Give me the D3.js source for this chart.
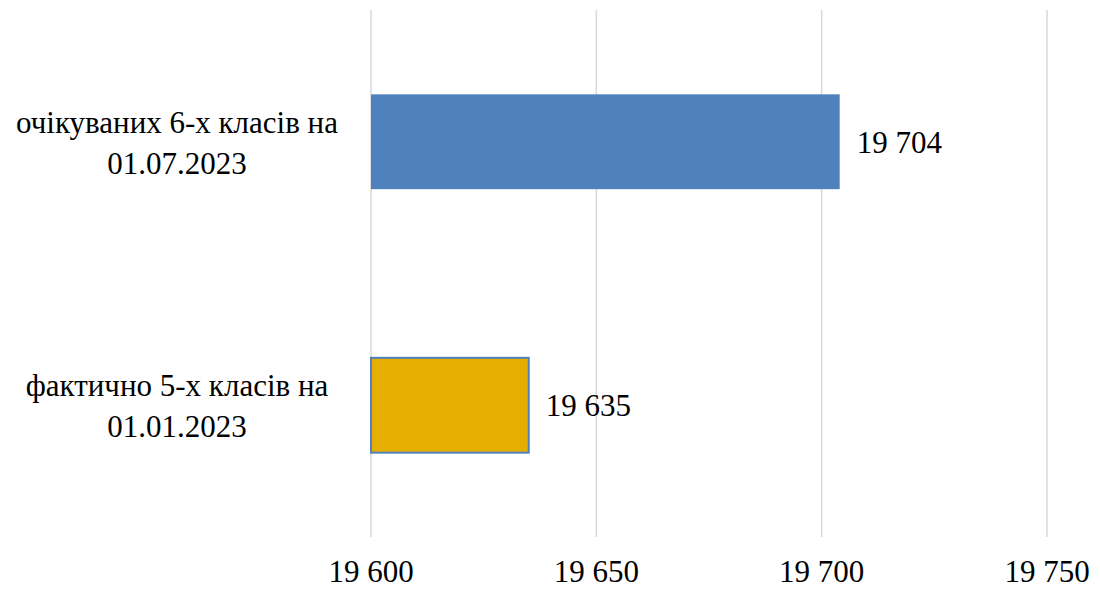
<!DOCTYPE html>
<html>
<head>
<meta charset="utf-8">
<script src="https://cdn.jsdelivr.net/npm/d3@7"></script>
<style>
  body { margin: 0; background: #fff; }
</style>
</head>
<body>
<div id="chart"></div>
<script>
var categories = ["очікуваних 6-х класів на|01.07.2023", "фактично 5-х класів на|01.01.2023"];
var values = [19704, 19635];
var tickValues = [19600, 19650, 19700, 19750];
var tickLabels = ["19 600", "19 650", "19 700", "19 750"];

var width = 1100, height = 589;
var fills = ["#4f81bd", "#e6ae00"];
var font = "'Times New Roman', Times, 'Liberation Serif', Tinos, 'Noto Serif', 'DejaVu Serif', FreeSerif, serif";

var svg = d3.select("#chart").append("svg")
    .attr("width", width)
    .attr("height", height)
    .style("font-family", font);

var x = d3.scaleLinear().domain([19600, 19750]).range([371, 1047]);
var y = d3.scaleBand().domain(categories).range([10, 537]).padding(0);
var barH = y.bandwidth() * 0.36;

// gridlines
svg.append("g").selectAll("line")
    .data(tickValues)
    .enter().append("line")
    .attr("x1", function(d){ return x(d); })
    .attr("x2", function(d){ return x(d); })
    .attr("y1", 10)
    .attr("y2", 537)
    .attr("stroke", "#d9d9d9")
    .attr("stroke-width", 1.5);

// tick labels
svg.append("g").selectAll("text")
    .data(tickValues)
    .enter().append("text")
    .attr("x", function(d){ return x(d); })
    .attr("y", 582)
    .attr("text-anchor", "middle")
    .attr("font-family", font)
    .style("font-size", "31px")
    .text(function(d, i){ return tickLabels[i]; });

// bars
svg.append("g").selectAll("rect")
    .data(values)
    .enter().append("rect")
    .attr("x", x(19600))
    .attr("y", function(d, i){ return y(categories[i]) + (y.bandwidth() - barH) / 2; })
    .attr("width", function(d){ return x(d) - x(19600); })
    .attr("height", barH)
    .attr("fill", function(d, i){ return fills[i]; })
    .attr("stroke", function(d, i){ return i == 1 ? "#4f81bd" : "none"; })
    .attr("stroke-width", 2);

// value labels
svg.append("g").selectAll("text")
    .data(values)
    .enter().append("text")
    .attr("x", function(d){ return x(d) + 17; })
    .attr("y", function(d, i){ return y(categories[i]) + y.bandwidth() / 2 + 11; })
    .attr("font-family", font)
    .style("font-size", "31px")
    .text(function(d){ return d3.format(",")(d).replace(",", " "); });

// category labels
var cat = svg.append("g").selectAll("text")
    .data(categories)
    .enter().append("text")
    .attr("text-anchor", "middle")
    .attr("font-family", font)
    .style("font-size", "31px")
    .attr("transform", function(d){ return "translate(177," + (y(d) + y.bandwidth() / 2) + ")"; });

cat.selectAll("tspan")
    .data(function(d){ return d.split("|"); })
    .enter().append("tspan")
    .attr("x", 0)
    .attr("y", function(d, i){ return i == 0 ? -9 : 32; })
    .text(function(d){ return d; });
</script>
</body>
</html>
